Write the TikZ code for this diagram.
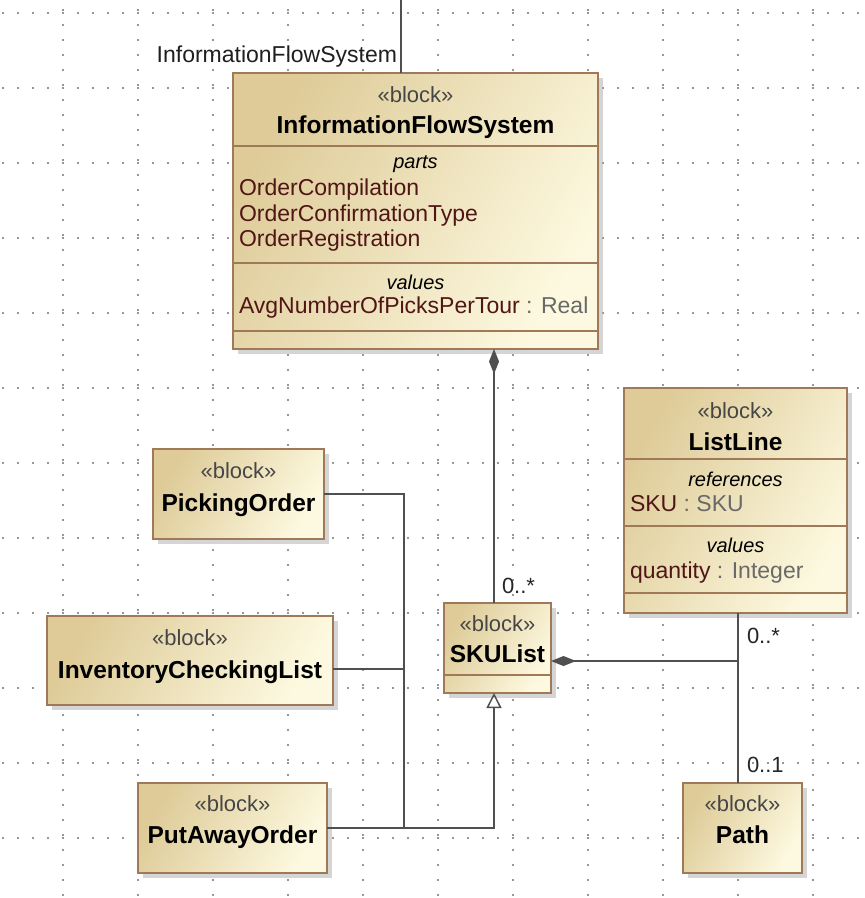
\documentclass[tikz,border=0pt]{standalone}
\usepackage{fontspec}
\setmainfont{Liberation Sans}
\usetikzlibrary{arrows.meta,shadows,calc}

\definecolor{blkA}{RGB}{222,203,152}
\definecolor{blkB}{RGB}{253,249,224}
\definecolor{blkEdge}{RGB}{160,122,88}
\definecolor{wire}{RGB}{80,80,80}
\definecolor{attr}{RGB}{80,22,22}
\definecolor{typ}{RGB}{105,105,105}
\definecolor{stereo}{RGB}{70,70,70}
\definecolor{griddot}{RGB}{150,150,150}

\newcommand{\fsz}[2]{\fontsize{#1}{#2}\selectfont}

\tikzset{
  blockbox/.style={draw=blkEdge, line width=1.6pt,
    top color=blkA, bottom color=blkB, shading angle=60,
    drop shadow={shadow xshift=5pt, shadow yshift=-5pt, fill=black!32},
    anchor=north west, inner sep=0pt, outer sep=0pt},
  divider/.style={draw=blkEdge, line width=1.6pt},
  lbl/.style={inner sep=0pt, outer sep=0pt},
  stereotype/.style={lbl, anchor=base, text=stereo, font=\fsz{22}{26}},
  blockname/.style={lbl, anchor=base, text=black, font=\fsz{24.5}{28}\bfseries},
  compartment/.style={lbl, anchor=base, text=black, font=\fsz{20}{24}\itshape},
  feature/.style={lbl, anchor=base west, font=\fsz{23}{26}},
  mult/.style={lbl, anchor=base west, text=black!85, font=\fsz{22}{26}},
  wireline/.style={draw=wire, line width=1.5pt},
  composite/.style={wireline, {Diamond[length=25pt,width=10pt]}-},
  generalize/.style={wireline, -{Triangle[open,length=15pt,width=15pt,fill=white]}},
}

\begin{document}
\begin{tikzpicture}[x=1pt, y=-1pt]
\useasboundingbox (0,0) rectangle (865,898);
\fill[white] (0,0) rectangle (865,898);

% dotted drawing grid
\foreach \r in {0,...,11}
  \foreach \c in {0,...,57}
    \fill[griddot] ({3+15*\c-0.9},{13+75*\r-0.9}) rectangle ++(1.8,1.8);
\foreach \c in {0,...,10}
  \foreach \r in {0,...,59}
    \fill[griddot] ({63+75*\c-0.9},{10+15*\r-0.9}) rectangle ++(1.8,1.8);

% ---------- blocks ----------
% InformationFlowSystem
\node[blockbox, minimum width=365pt, minimum height=276pt] (ifs) at (233,73) {};
\draw[divider] (ifs.west |- 0,146) -- (ifs.east |- 0,146);
\draw[divider] (ifs.west |- 0,263) -- (ifs.east |- 0,263);
\draw[divider] (ifs.west |- 0,331) -- (ifs.east |- 0,331);
\node[stereotype] at (415.5,102) {«block»};
\node[blockname] at (415.5,133) {InformationFlowSystem};
\node[compartment] at (415.5,168) {parts};
\node[feature, text=attr] at (239,195) {OrderCompilation};
\node[feature, text=attr] at (239,221) {OrderConfirmationType};
\node[feature, text=attr] at (239,246) {OrderRegistration};
\node[compartment] at (415.5,289) {values};
\node[feature] at (239,313) {\textcolor{attr}{AvgNumberOfPicksPerTour} \textcolor{typ}{: Real}};

% ListLine
\node[blockbox, minimum width=223pt, minimum height=225pt] (ll) at (624,388) {};
\draw[divider] (ll.west |- 0,459) -- (ll.east |- 0,459);
\draw[divider] (ll.west |- 0,526) -- (ll.east |- 0,526);
\draw[divider] (ll.west |- 0,593) -- (ll.east |- 0,593);
\node[stereotype] at (735.5,418) {«block»};
\node[blockname] at (735.5,450) {ListLine};
\node[compartment] at (735.5,486) {references};
\node[feature] at (630,511.5) {\textcolor{attr}{SKU} \textcolor{typ}{: SKU}};
\node[compartment] at (735.5,552) {values};
\node[feature] at (630,578) {\textcolor{attr}{quantity} \textcolor{typ}{: Integer}};

% PickingOrder
\node[blockbox, minimum width=171pt, minimum height=90pt] (pick) at (153,449) {};
\node[stereotype] at (238.5,478) {«block»};
\node[blockname] at (238.5,511) {PickingOrder};

% InventoryCheckingList
\node[blockbox, minimum width=286pt, minimum height=89pt] (inv) at (47,616) {};
\node[stereotype] at (190,645) {«block»};
\node[blockname] at (190,678) {InventoryCheckingList};

% PutAwayOrder
\node[blockbox, minimum width=189pt, minimum height=90pt] (put) at (138,783) {};
\node[stereotype] at (232.5,811.5) {«block»};
\node[blockname] at (232.5,843) {PutAwayOrder};

% SKUList
\node[blockbox, minimum width=107pt, minimum height=90pt] (sku) at (444,603) {};
\draw[divider] (sku.west |- 0,675) -- (sku.east |- 0,675);
\node[stereotype] at (497.5,631.5) {«block»};
\node[blockname] at (497.5,662.5) {SKUList};

% Path
\node[blockbox, minimum width=119pt, minimum height=90pt] (path) at (683,783) {};
\node[stereotype] at (742.5,811) {«block»};
\node[blockname] at (742.5,843) {Path};

% ---------- connectors ----------
% part property entering from above
\coordinate (topend) at (401,-2);
\draw[wireline] (topend) -- (topend |- ifs.north);
\node[lbl, anchor=base east, text=black!88, font=\fsz{23}{26}] at (397,62) {InformationFlowSystem};

% InformationFlowSystem composes SKUList
\coordinate (skutop) at ($(sku.north west)+(50,0)$);
\draw[composite] (ifs.south -| skutop) -- (skutop);
\node[mult] at (502,593) {0..*};

% SKUList composes ListLine
\coordinate (skuside) at ($(sku.north east)+(0,58)$);
\coordinate (llbot) at ($(ll.south west)+(114,0)$);
\draw[composite] (skuside) -- (skuside -| llbot) -- (llbot);
\node[mult] at (747,643) {0..*};

% ListLine -- Path association
\draw[wireline] (llbot) -- (llbot |- path.north);
\node[mult] at (747,772) {0..1};

% generalizations into SKUList
\coordinate (trunk) at (404,0);
\coordinate (invside) at ($(inv.north east)+(0,53)$);
\coordinate (skubot) at ($(sku.south west)+(50,0)$);
\draw[wireline] (pick.east) -- (pick.east -| trunk) -- (trunk |- put.east);
\draw[wireline] (invside) -- (invside -| trunk);
\draw[generalize] (put.east) -- (put.east -| skubot) -- (skubot);
\end{tikzpicture}
\end{document}
